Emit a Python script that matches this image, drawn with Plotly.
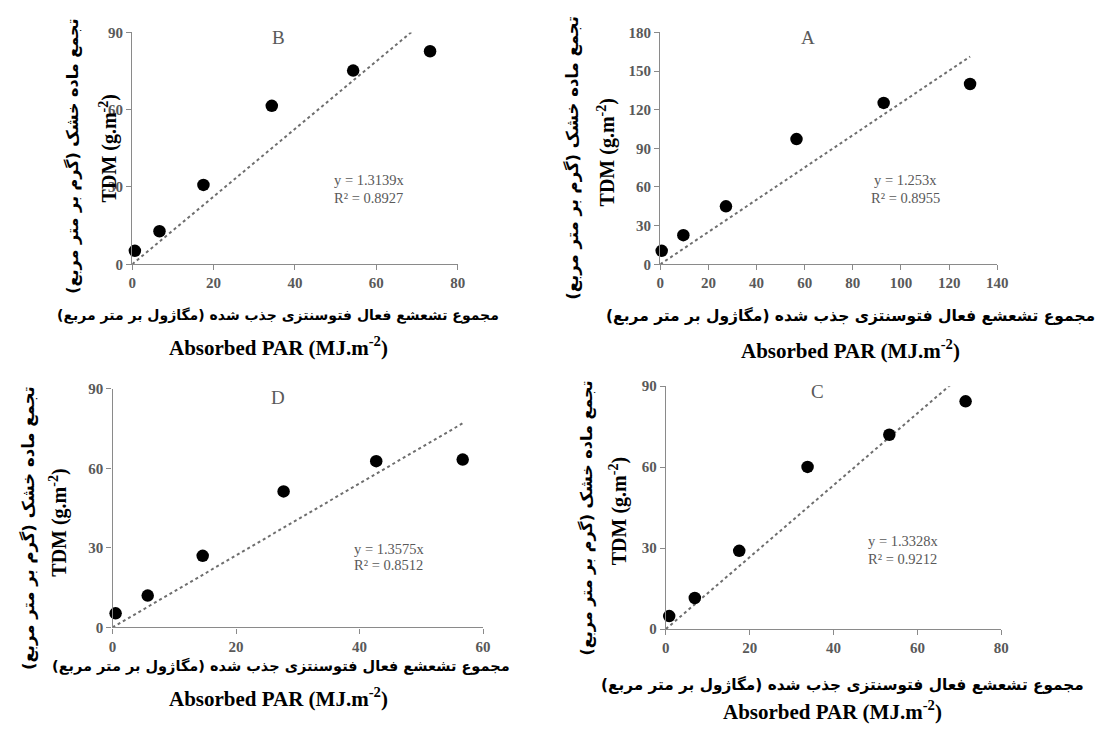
import plotly.graph_objects as go

W, H = 1102, 729

# Absorbed PAR (x) and total dry matter (y) for each panel
par_a = [0.6, 9.6, 27.3, 56.6, 92.8, 128.7]
tdm_a = [10.4, 22.6, 45.0, 97.2, 125.3, 140.0]
par_b = [0.65, 6.7, 17.5, 34.3, 54.3, 73.2]
tdm_b = [5.2, 12.8, 30.8, 61.5, 75.2, 82.7]
par_c = [0.8, 6.9, 17.5, 33.8, 53.3, 71.5]
tdm_c = [4.8, 11.5, 29.0, 60.1, 72.0, 84.4]
par_d = [0.5, 5.7, 14.6, 27.7, 42.7, 56.7]
tdm_d = [5.3, 12.0, 27.0, 51.3, 62.7, 63.3]

# Fitted slopes (y = b x) and R²
slope = {"A": 1.253, "B": 1.3139, "C": 1.3328, "D": 1.3575}
slope_txt = {"A": "1.253", "B": "1.3139", "C": "1.3328", "D": "1.3575"}
r2 = {"A": "0.8955", "B": "0.8927", "C": "0.9212", "D": "0.8512"}

x_ticks = {"A": [0, 20, 40, 60, 80, 100, 120, 140], "B": [0, 20, 40, 60, 80],
           "C": [0, 20, 40, 60, 80], "D": [0, 20, 40, 60]}
y_ticks = {"A": [0, 30, 60, 90, 120, 150, 180], "B": [0, 30, 60, 90],
           "C": [0, 30, 60, 90], "D": [0, 30, 60, 90]}

fa_ytitle = "تجمع ماده خشک (گرم بر متر مربع)"
fa_xtitle = "مجموع تشعشع فعال فتوسنتزی جذب شده (مگاژول بر متر مربع)"
en_ytitle = "TDM (g.m<sup>-2</sup>)"
en_xtitle = "Absorbed PAR (MJ.m<sup>-2</sup>)"
RLM = "\u200f"


def px(x):
    return x / W


def py(y):
    return 1 - y / H


# pixel boxes of each plot area: left, right, top, bottom
boxes = {
    "B": (130, 460, 25, 262),
    "A": (665.3, 1007, 25, 262),
    "D": (110, 485.7, 389.3, 633.3),
    "C": (671, 1011, 386.7, 635),
}
data = {"A": (par_a, tdm_a), "B": (par_b, tdm_b), "C": (par_c, tdm_c), "D": (par_d, tdm_d)}
order = ["B", "A", "D", "C"]

serif = "Liberation Serif"
fa_font = "DejaVu Sans"
grey = "#595959"
axis_col = "#8a8a8a"

fig = go.Figure()
layout = dict(width=W, height=H, margin=dict(l=0, r=0, t=0, b=0),
              paper_bgcolor="white", plot_bgcolor="white", showlegend=False)

annotations = []


def note(x, y, text, font, angle=0, xanchor="center"):
    annotations.append(dict(x=px(x), y=py(y), xref="paper", yref="paper", text=text,
                            showarrow=False, xanchor=xanchor, yanchor="middle",
                            textangle=angle, font=font))


# text placement per panel (pixels)
letter_pos = {"B": (278, 30), "A": (815, 30), "D": (278, 398), "C": (825, 392)}
eq_pos = {"B": (333, 176, 194, "left"), "A": (914, 176, 194, "center"),
          "D": (353, 553, 570, "left"), "C": (874, 545, 563, "left")}
# persian title x, y, size; english title x, y
ytitle_pos = {"B": (70, 152, 16, 106, 144), "A": (576, 153, 16.5, 611, 148),
              "D": (25, 532, 16.5, 55, 526), "C": (591, 521, 16, 623, 515)}
xtitle_pos = {"B": (278, 314, 14, 278, 346), "A": (858, 314, 15.5, 858, 349),
              "D": (281, 673, 14.5, 278, 705), "C": (850, 692, 15.3, 840, 718)}

tick_font = dict(family=serif, size=15, color=grey, weight="bold")

for i, key in enumerate(order, start=1):
    xs, ys = data[key]
    l, r, t, b = boxes[key]
    sfx = "" if i == 1 else str(i)
    xa, ya = "x" + sfx, "y" + sfx
    xt, yt = x_ticks[key], y_ticks[key]

    common = dict(ticks="outside", ticklen=5, tickwidth=1.3, tickcolor=axis_col,
                  showline=True, linecolor=axis_col, linewidth=1.3, showgrid=False,
                  zeroline=False, tickfont=tick_font, fixedrange=True)
    layout["xaxis" + sfx] = dict(domain=[px(l), px(r)], range=[0, xt[-1]], anchor=ya,
                                 tickvals=xt, **common)
    layout["yaxis" + sfx] = dict(domain=[py(b), py(t)], range=[0, yt[-1]], anchor=xa,
                                 tickvals=yt, **common)

    # regression line through the origin
    x_end = max(xs)
    fig.add_trace(go.Scatter(
        x=[0, x_end], y=[0, slope[key] * x_end], mode="lines",
        line=dict(color="#6e6e6e", width=2, dash="dot"),
        xaxis=xa, yaxis=ya, hoverinfo="skip"))
    # observations
    fig.add_trace(go.Scatter(
        x=xs, y=ys, mode="markers", cliponaxis=False,
        marker=dict(color="black", size=12.5),
        xaxis=xa, yaxis=ya))

    lx, ly = letter_pos[key]
    note(lx, ly, key, dict(family=serif, size=19, color=grey))

    ex, e1, e2, al = eq_pos[key]
    eq_font = dict(family=serif, size=14.5, color=grey)
    note(ex, e1, f"y = {slope_txt[key]}x", eq_font, xanchor=al)
    note(ex, e2, f"R² = {r2[key]}", eq_font, xanchor=al)

    fx, fy, fs, tx, ty = ytitle_pos[key]
    note(fx, fy, RLM + fa_ytitle + RLM,
         dict(family=fa_font, size=fs, color="black", weight="bold"), angle=-90)
    note(tx, ty, en_ytitle, dict(family=serif, size=20, color="black", weight="bold"), angle=-90)

    gx, gy, gs, hx, hy = xtitle_pos[key]
    note(gx, gy, RLM + fa_xtitle + RLM,
         dict(family=fa_font, size=gs, color="black", weight="bold"))
    note(hx, hy, en_xtitle, dict(family=serif, size=21, color="black", weight="bold"))

layout["annotations"] = annotations
fig.update_layout(**layout)
fig.write_html("out.html")
